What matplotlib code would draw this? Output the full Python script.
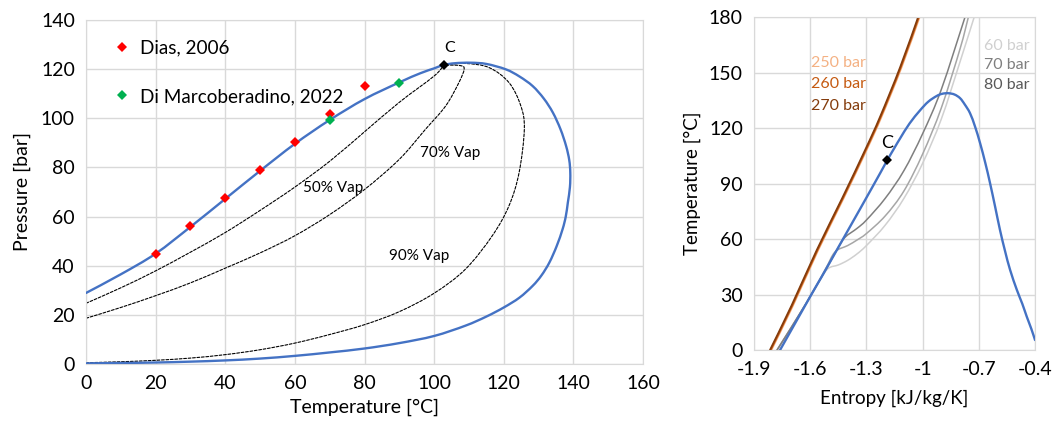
import matplotlib
matplotlib.use("Agg")
import matplotlib.pyplot as plt
from matplotlib.path import Path
from matplotlib.patches import PathPatch

plt.rcParams['font.family'] = ['Lato', 'DejaVu Sans']

# ---- left chart: P-T envelope ----
env_T = [0, 10, 20, 30, 40, 50, 60, 70, 80, 90, 96, 100, 102.8, 106, 110.5, 115, 120.6, 124.5,
         128.3, 131.5, 134.1, 136.3, 137.9, 138.8, 139.1, 139, 138.4, 137.8, 136.9, 135.2, 133.1,
         130.8, 128.3, 124.5, 120, 115, 109, 100, 90, 80, 70, 60, 50, 40, 30, 20, 10, 0]
env_P = [28.9, 36.5, 44.9, 55.8, 67.2, 78.6, 89.6, 99.3, 107.8, 114.6, 118.3, 120.3, 121.7, 122.4,
         122.6, 122.1, 119.9, 117, 113.1, 108, 102.3, 95.5, 88.7, 83, 77.9, 72, 65.7, 60, 54.9,
         48, 41.3, 36, 31.8, 27, 23, 19.3, 15.6, 11.4, 8.5, 6.3, 4.7, 3.3, 2.2, 1.45, 0.95, 0.6,
         0.4, 0.25]

vap50_T = [0, 10, 20, 30, 40, 50, 60, 70, 80, 90, 100, 102.8]
vap50_P = [24.7, 31, 37.9, 45.5, 53.5, 62.5, 72, 82.5, 94.5, 106.5, 117.2, 121.7]

vap70_T = [0, 10, 20, 30, 40, 50, 60, 70, 80, 90, 97.5, 103.3, 107.1, 108.6, 107.6, 102.8]
vap70_P = [18.6, 23, 27.8, 33, 39, 45.2, 52.2, 60.8, 71, 83.3, 95.5, 105, 114.5, 119.9, 121.4, 121.7]

vap90_T = [0, 10, 20, 30, 40, 50, 60, 70, 80, 90, 100, 109, 116.7, 121.5, 124.4, 125.9, 124.9,
           121.5, 115.8, 109, 102.8]
vap90_P = [0.5, 0.9, 1.5, 2.4, 3.8, 5.8, 8.5, 12, 16, 21.3, 28.8, 38.6, 52.2, 64.4, 77.9, 95.5,
           105, 114.5, 120.6, 122.3, 121.7]

dias_T = [20, 30, 40, 50, 60, 70, 80]
dias_P = [44.7, 56.1, 67.5, 78.9, 90.3, 101.8, 113.2]
dimarco_T = [70, 90]
dimarco_P = [99.2, 114.5]
crit_T, crit_P = 102.8, 121.7

# ---- right chart: T-s diagram ----
sat_S = [-1.761, -1.594, -1.539, -1.458, -1.33, -1.227, -1.188, -1.15, -1.120, -1.07, -1.014,
         -0.97, -0.925, -0.895, -0.863, -0.83, -0.800, -0.775, -0.747, -0.72, -0.693, -0.665,
         -0.640, -0.613, -0.587, -0.56, -0.533, -0.497, -0.468, -0.444, -0.42, -0.400]
sat_T = [0, 30, 39.6, 54.1, 77, 95.6, 102.8, 109.4, 114.5, 122.5, 129.6, 134.3, 137.4, 138.6,
         138.9, 138.2, 136.2, 132.8, 128.1, 120.8, 111.8, 101, 90.2, 77.5, 64.9, 53.5, 43.3, 32.5,
         25, 18.0, 11.5, 5.4]
crit_S, crit_Ts = -1.188, 102.8

iso_hi_S = [-1.815, -1.70, -1.565, -1.43, -1.307, -1.227, -1.12, -1.023]
iso_hi_T = [0, 24, 54.1, 82, 108.2, 126.2, 153, 180.4]
hi_labels = ['250 bar', '260 bar', '270 bar']
hi_shift = [0.008, 0.004, 0.0]
hi_colors = ['#F4B183', '#C55A11', '#843C0C']

iso60_S = [-1.777, -1.62, -1.545, -1.503, -1.45, -1.40, -1.35, -1.30, -1.20, -1.10, -1.00,
           -0.90, -0.80, -0.725]
iso60_T = [0, 25.5, 38.5, 44.2, 46, 48.5, 52, 56.5, 67.5, 82, 101, 125, 156, 180]
iso70_S = [-1.777, -1.62, -1.52, -1.468, -1.40, -1.35, -1.30, -1.20, -1.10, -1.00, -0.90,
           -0.80, -0.756]
iso70_T = [0, 25.5, 43.5, 53.0, 56.5, 59.5, 63, 72.5, 86, 106, 131, 163, 180]
iso80_S = [-1.777, -1.62, -1.50, -1.45, -1.414, -1.35, -1.30, -1.20, -1.10, -1.00, -0.90,
           -0.774]
iso80_T = [0, 25.5, 46.5, 55.5, 61.0, 65.8, 70.3, 82, 97, 117, 141, 180]
lo_labels = ['60 bar', '70 bar', '80 bar']
lo_line_colors = ['#D0D0D0', '#A6A6A6', '#7F7F7F']
lo_text_colors = ['#D0D0D0', '#7F7F7F', '#595959']

blue = '#4472C4'
gridc = '#D9D9D9'


def smooth(ax, xs, ys, **kw):
    # Excel-style smoothed line: cubic Bezier segments through the points
    pts = list(zip(xs, ys))
    n = len(pts)
    verts = [pts[0]]
    codes = [Path.MOVETO]
    for i in range(n - 1):
        p0 = pts[i - 1] if i > 0 else pts[i]
        p1 = pts[i]
        p2 = pts[i + 1]
        p3 = pts[i + 2] if i + 2 < n else pts[i + 1]
        c1 = (p1[0] + (p2[0] - p0[0]) / 6, p1[1] + (p2[1] - p0[1]) / 6)
        c2 = (p2[0] - (p3[0] - p1[0]) / 6, p2[1] - (p3[1] - p1[1]) / 6)
        verts += [c1, c2, p2]
        codes += [Path.CURVE4] * 3
    ax.add_patch(PathPatch(Path(verts, codes), fill=False, capstyle='round', **kw))


fig = plt.figure(figsize=(10.54, 4.33), dpi=100)
ax1 = fig.add_axes([0.0816, 0.1594, 0.5285, 0.7945])
ax2 = fig.add_axes([0.7154, 0.1917, 0.2666, 0.7685])

for ax in (ax1, ax2):
    ax.grid(True, color=gridc, lw=1)
    ax.set_axisbelow(True)
    for sp in ax.spines.values():
        sp.set_color(gridc)
    ax.tick_params(length=0, labelsize=14, pad=8)

# left
smooth(ax1, env_T, env_P, edgecolor=blue, lw=1.7, zorder=3)
for xs, ys in [(vap50_T, vap50_P), (vap70_T, vap70_P), (vap90_T, vap90_P)]:
    smooth(ax1, xs, ys, edgecolor='black', lw=0.8, ls=(0, (2.5, 1.5)), zorder=2)
ax1.plot(dias_T, dias_P, 'D', color='#FF0000', ms=5.5, mew=0, zorder=4, label='Dias, 2006')
ax1.plot(dimarco_T, dimarco_P, 'D', color='#00B050', ms=5.5, mew=0, zorder=4,
         label='Di Marcoberadino, 2022')
ax1.plot([crit_T], [crit_P], 'D', color='black', ms=5.5, mew=0, zorder=5)
ax1.text(104.5, 128.5, 'C', fontsize=11.5, ha='center', va='center')
ax1.text(62.2, 71.8, '50% Vap', fontsize=11, va='center')
ax1.text(95.9, 85.8, '70% Vap', fontsize=11, va='center')
ax1.text(87.0, 43.8, '90% Vap', fontsize=11, va='center')
ax1.legend(loc='upper left', bbox_to_anchor=(0.03, 0.97), frameon=False, fontsize=13.6,
           handlelength=1.0, handletextpad=0.5, labelspacing=1.65, borderpad=0)
ax1.set_xlim(0, 160)
ax1.set_ylim(0, 140)
ax1.set_xticks(range(0, 161, 20))
ax1.set_yticks(range(0, 141, 20))
ax1.set_xlabel('Temperature [°C]', fontsize=14, labelpad=5)
ax1.set_ylabel('Pressure [bar]', fontsize=14, labelpad=7)

# right
for lab, sh, c in zip(hi_labels, hi_shift, hi_colors):
    smooth(ax2, [s + sh for s in iso_hi_S], iso_hi_T, edgecolor=c, lw=1.3, zorder=2)
for xs, ys, c in [(iso60_S, iso60_T, lo_line_colors[0]), (iso70_S, iso70_T, lo_line_colors[1]),
                  (iso80_S, iso80_T, lo_line_colors[2])]:
    smooth(ax2, xs, ys, edgecolor=c, lw=1.1, zorder=2)
smooth(ax2, sat_S, sat_T, edgecolor=blue, lw=1.7, zorder=3)
ax2.plot([crit_S], [crit_Ts], 'D', color='black', ms=5.5, mew=0, zorder=5)
ax2.text(-1.191, 112.2, 'C', fontsize=13, ha='center', va='center')
for i, (lab, c) in enumerate(zip(hi_labels, hi_colors)):
    ax2.text(-1.597, 155.4 - 11.6 * i, lab, color=c, fontsize=11.5, va='center')
for i, (lab, c) in enumerate(zip(lo_labels, lo_text_colors)):
    ax2.text(-0.43, 164.7 - 10.7 * i, lab, color=c, fontsize=11.5, va='center', ha='right')
ax2.set_xlim(-1.9, -0.4)
ax2.set_ylim(0, 180)
sticks = [-1.9, -1.6, -1.3, -1.0, -0.7, -0.4]
ax2.set_xticks(sticks)
ax2.set_xticklabels(['-1.9', '-1.6', '-1.3', '-1', '-0.7', '-0.4'])
ax2.set_yticks(range(0, 181, 30))
ax2.set_xlabel('Entropy [kJ/kg/K]', fontsize=13.5, labelpad=8)
ax2.set_ylabel('Temperature [°C]', fontsize=13.5, labelpad=6)

fig.savefig('out.png', dpi=100)
